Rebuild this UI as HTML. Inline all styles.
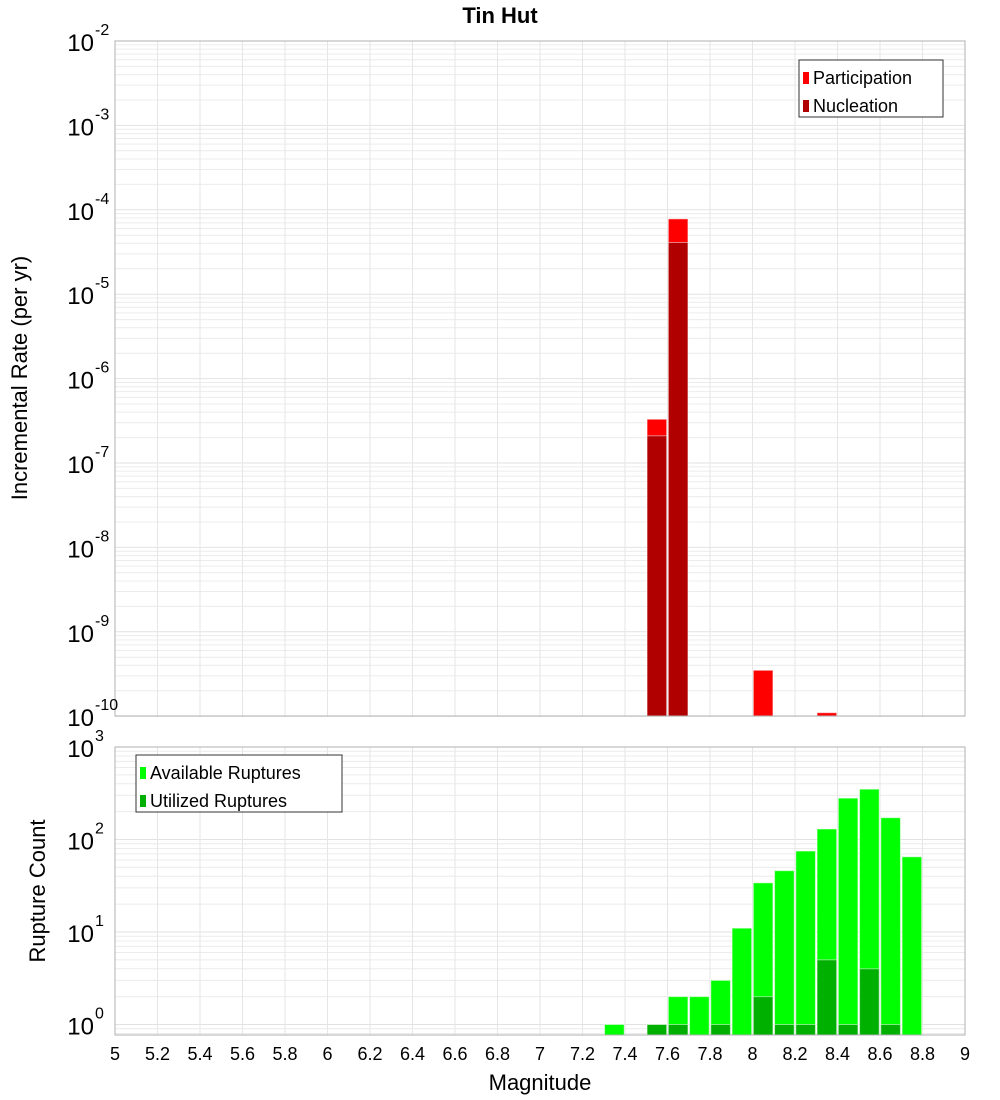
<!DOCTYPE html>
<html><head><meta charset="utf-8"><style>
body{margin:0;background:#fff;}
svg{display:block;font-family:"Liberation Sans","DejaVu Sans",sans-serif;}
</style></head><body>
<svg id="chart" width="1000" height="1100">
<text x="500" y="23" text-anchor="middle" font-size="22" font-weight="bold">Tin Hut</text>
<g id="top"></g>
<g id="bot"></g>
<text transform="translate(27,378) rotate(-90)" text-anchor="middle" font-size="22">Incremental Rate (per yr)</text>
<text transform="translate(45,891) rotate(-90)" text-anchor="middle" font-size="22">Rupture Count</text>
<text x="540" y="1090" text-anchor="middle" font-size="22">Magnitude</text>
</svg>
<script>
const rateMags=[7.55,7.65,8.05,8.35];
const participation=[3.3e-7,7.8e-5,3.5e-10,1.1e-10];
const nucMags=[7.55,7.65];
const nucleation=[2.1e-7,4.1e-5];
const availMags=[7.35,7.55,7.65,7.75,7.85,7.95,8.05,8.15,8.25,8.35,8.45,8.55,8.65,8.75];
const available=[1,1,2,2,3,11,34,46,75,130,280,350,172,65];
const utilMags=[7.55,7.65,7.85,8.05,8.15,8.25,8.35,8.45,8.55,8.65];
const utilized=[1,1,1,2,1,1,5,1,4,1];
const xTicks=[5,5.2,5.4,5.6,5.8,6,6.2,6.4,6.6,6.8,7,7.2,7.4,7.6,7.8,8,8.2,8.4,8.6,8.8,9];
const topExp=[-2,-3,-4,-5,-6,-7,-8,-9,-10];
const botExp=[3,2,1,0];

const NS='http://www.w3.org/2000/svg';
const X0=115,X1=965;
const xs=m=>X0+(m-5)/4*(X1-X0);
function mk(p,tag,a){const e=document.createElementNS(NS,tag);for(const k in a)e.setAttribute(k,a[k]);p.appendChild(e);return e;}
function panel(g,top,bottom,ytop,dec,minLog,exps,name){
  const ys=v=>ytop+(Math.log10(ytop===41?1e-2:1e3)-Math.log10(v))*dec;
  // grid
  for(let d=Math.floor(minLog);d<=(ytop===41?-2:3);d++){
    for(let k=1;k<10;k++){const v=k*Math.pow(10,d);const y=ys(v);if(y<top-0.5||y>bottom+0.5)continue;
      const l=mk(g,'line',{x1:X0,x2:X1,y1:y,y2:y,stroke:k==1?'#e2e2e2':'#ececec','stroke-width':1});
      }
  }
  xTicks.forEach(t=>{const l=mk(g,'line',{x1:xs(t),x2:xs(t),y1:top,y2:bottom,stroke:'#e6e6e6'});
    });
  return ys;
}
function bars(g,mags,vals,ys,bottom,fill,name){
  mags.forEach((m,i)=>{const y=Math.max(ys(vals[i]),0);const r=mk(g,'rect',{x:xs(m)-9.8,y:y,width:19.6,height:bottom-y,fill:fill,stroke:'rgba(255,255,255,0.5)','stroke-width':1});
    });
}
function yLabels(g,exps,ys,xr,size){
  exps.forEach(e=>{const y=ys(Math.pow(10,e));const t=mk(g,'text',{x:xr,y:y+10,'font-size':size,'text-anchor':'end'});
    t.textContent='10';
    const s=mk(g,'text',{x:xr+1,y:y-6,'font-size':16});s.textContent=String(e);
    });
}
function legend(g,x,y,w,items,name){
  const b=mk(g,'rect',{x:x,y:y,width:w,height:57,fill:'#fff',stroke:'#333'});
  
  items.forEach((it,i)=>{const yy=y+19+i*28;
    const s=mk(g,'rect',{x:x+4,y:yy-7,width:6,height:12,fill:it[1]});
    
    const t=mk(g,'text',{x:x+14,y:yy+5,'font-size':18});t.textContent=it[0];
    });
}
// top
const gt=document.getElementById('top');
const ysT=panel(gt,41,716,41,84.4,-10,topExp);
bars(gt,rateMags,participation,ysT,716,'#ff0000','bar-participation');
bars(gt,nucMags,nucleation,ysT,716,'#b00000','bar-nucleation');
mk(gt,'rect',{x:X0,y:41,width:X1-X0,height:675,fill:'none',stroke:'#b0b0b0'});
yLabels(gt,topExp,ysT,94,24);
legend(gt,799,60,144,[['Participation','#ff0000'],['Nucleation','#b00000']],'legend-rate');
// bottom
const gb=document.getElementById('bot');
const ysB=panel(gb,747,1035,747,92.5,-1,botExp);
bars(gb,availMags,available,ysB,1035,'#00ff00','bar-available');
bars(gb,utilMags,utilized,ysB,1035,'#00b000','bar-utilized');
mk(gb,'rect',{x:X0,y:747,width:X1-X0,height:288,fill:'none',stroke:'#b0b0b0'});
yLabels(gb,botExp,ysB,94,24);
legend(gb,136,755,206,[['Available Ruptures','#00ff00'],['Utilized Ruptures','#00b000']],'legend-count');
xTicks.forEach(t=>{const e=mk(gb,'text',{x:xs(t),y:1060,'font-size':18,'text-anchor':'middle'});e.textContent=String(t);
  });
</script>
</body></html>
